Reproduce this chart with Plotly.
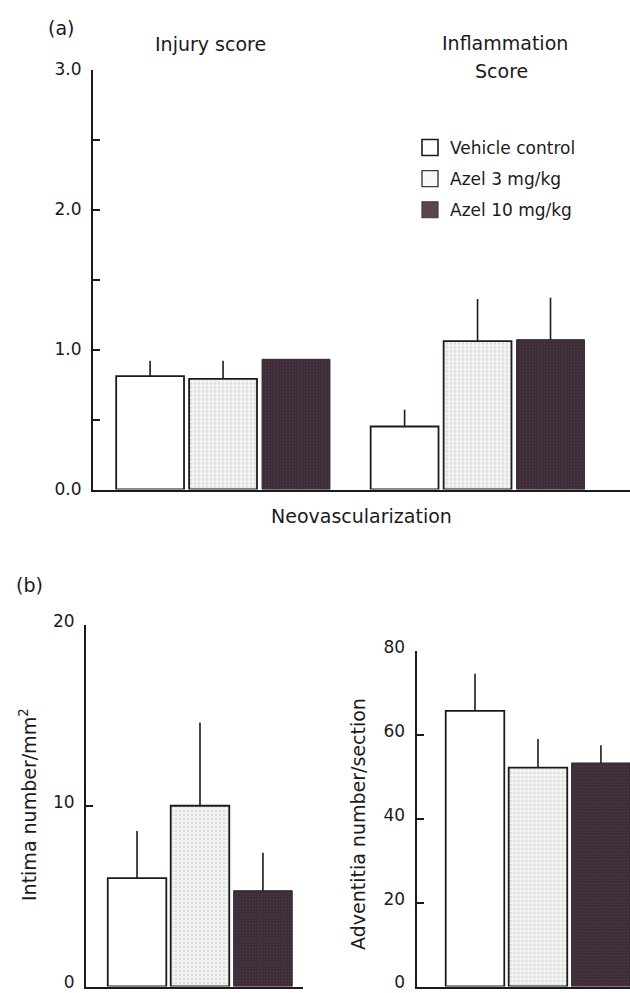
import plotly.graph_objects as go

W, H = 630, 993

# ---------------- data ----------------
groups = ["Vehicle control", "Azel 3 mg/kg", "Azel 10 mg/kg"]

neo_categories = ["Injury score", "Inflammation Score"]
neo_values = {
    "Vehicle control": [0.81, 0.45],
    "Azel 3 mg/kg": [0.79, 1.06],
    "Azel 10 mg/kg": [0.93, 1.07],
}
neo_errors = {
    "Vehicle control": [0.11, 0.12],
    "Azel 3 mg/kg": [0.13, 0.30],
    "Azel 10 mg/kg": [None, 0.30],
}

intima_category = ["Intima"]
intima_values = {"Vehicle control": [6.0], "Azel 3 mg/kg": [10.0], "Azel 10 mg/kg": [5.3]}
intima_errors = {"Vehicle control": [2.6], "Azel 3 mg/kg": [4.6], "Azel 10 mg/kg": [2.1]}

adv_category = ["Adventitia"]
adv_values = {"Vehicle control": [65.7], "Azel 3 mg/kg": [52.2], "Azel 10 mg/kg": [53.3]}
adv_errors = {"Vehicle control": [8.9], "Azel 3 mg/kg": [6.8], "Azel 10 mg/kg": [4.2]}

neo_ticks = [0, 1, 2, 3]
neo_ticktext = ["0.0", "1.0", "2.0", "3.0"]
intima_ticks = [0, 10, 20]
adv_ticks = [0, 20, 40, 60, 80]

# ---------------- styles ----------------
FONT = "DejaVu Sans"
INK = "#1c1a1c"
bar_style = {
    "Vehicle control": dict(color="#ffffff", line=dict(color=INK, width=1.8)),
    "Azel 3 mg/kg": dict(color="#f1f3ee", line=dict(color=INK, width=1.8),
                         pattern=dict(shape=".", fgcolor="#bcc6cc", bgcolor="#f1f3ee",
                                      size=4, solidity=0.25)),
    "Azel 10 mg/kg": dict(color="#3d2c38", line=dict(color="#33242f", width=1),
                          pattern=dict(shape=".", fgcolor="#5e4a58", bgcolor="#3d2c38",
                                       size=3, solidity=0.25)),
}
legend_style = {
    "Vehicle control": dict(color="#ffffff", line=dict(color=INK, width=1.6)),
    "Azel 3 mg/kg": dict(color="#f7f7f3", line=dict(color="#3a3a3a", width=1.4)),
    "Azel 10 mg/kg": dict(color="#5a4553", line=dict(color="#4a3744", width=1.2)),
}

fig = go.Figure()


def add_bars(cats, vals, errs, xa, ya):
    for g in groups:
        e = errs[g]
        fig.add_trace(go.Bar(
            x=cats, y=vals[g], name=g, legendgroup=g, showlegend=False,
            marker=bar_style[g], xaxis=xa, yaxis=ya,
            error_y=dict(type="data", symmetric=False, array=e,
                         arrayminus=[0] * len(e), color=INK, thickness=1.6, width=0),
        ))


add_bars(neo_categories, neo_values, neo_errors, "x", "y")
add_bars(intima_category, intima_values, intima_errors, "x2", "y2")
add_bars(adv_category, adv_values, adv_errors, "x3", "y3")

# legend entries
for g in groups:
    fig.add_trace(go.Scatter(
        x=[None], y=[None], mode="markers", name=g, legendgroup=g,
        marker=dict(symbol="square", size=16, **legend_style[g]),
        xaxis="x", yaxis="y",
    ))


def px_x(p):
    return p / W


def px_y(p):
    return 1 - p / H


axis_common = dict(showline=True, linecolor=INK, linewidth=2, showgrid=False,
                   zeroline=False, automargin=False)
yaxis_common = dict(axis_common, ticks="inside", ticklen=7, tickwidth=1.5,
                    tickcolor=INK, tickfont=dict(family=FONT, size=17, color=INK),
                    ticklabelstandoff=6, ticklabeloverflow="allow")

fig.update_layout(
    width=W, height=H, autosize=False,
    margin=dict(l=0, r=0, t=0, b=0, pad=0, autoexpand=False),
    paper_bgcolor="white", plot_bgcolor="white",
    barmode="group", bargap=0.14, bargroupgap=0.07,
    font=dict(family=FONT, color=INK),
    showlegend=True,
    legend=dict(x=px_x(410), y=px_y(130), xanchor="left", yanchor="top",
                font=dict(family=FONT, size=17, color=INK),
                bgcolor="rgba(0,0,0,0)", tracegroupgap=6, itemclick=False,
                itemdoubleclick=False),
    xaxis=dict(axis_common, type="category", domain=[px_x(93), 1.0],
               range=[-0.511, 1.599], showticklabels=False, ticks="",
               anchor="y", fixedrange=True),
    yaxis=dict(yaxis_common, domain=[px_y(489.5), px_y(69.5)], range=[0, 3],
               tickvals=neo_ticks, ticktext=neo_ticktext, anchor="x",
               minor=dict(dtick=0.5, ticks="inside", ticklen=7, tickwidth=1.5,
                          tickcolor=INK, showgrid=False)),
    xaxis2=dict(axis_common, type="category", domain=[px_x(86), px_x(303)],
                range=[-0.519, 0.469], showticklabels=False, ticks="",
                anchor="y2"),
    yaxis2=dict(yaxis_common, domain=[px_y(986.5), px_y(625)], range=[0, 20],
                tickvals=intima_ticks, anchor="x2", ticklabelshift=-4),
    xaxis3=dict(axis_common, type="category", domain=[px_x(416.5), 1.0],
                range=[-0.553, 0.419], showticklabels=False, ticks="",
                anchor="y3"),
    yaxis3=dict(yaxis_common, domain=[px_y(986.5), px_y(651)], range=[0, 80],
                tickvals=adv_ticks, anchor="x3", ticklabelshift=-4),
)


def label(text, x, y, size=19, angle=0):
    fig.add_annotation(text=text, x=px_x(x), y=px_y(y), xref="paper", yref="paper",
                       xanchor="center", yanchor="middle", showarrow=False,
                       textangle=angle, font=dict(family=FONT, size=size, color=INK))


label("(a)", 61, 28)
label("Injury score", 210, 44)
label("Inflammation", 505, 43)
label("Score", 502, 71)
label("Neovascularization", 361, 516)
label("(b)", 29, 585)
label("Intima number/mm<sup>2</sup>", 28, 805, angle=-90)
label("Adventitia number/section", 358, 824, angle=-90)

# let the 630x993 figure fill the window exactly (no default 8px body margin)
fig.write_html(
    "out.html",
    config={"displayModeBar": False},
    post_script="document.body.style.margin='0';document.body.style.overflow='hidden';",
)
